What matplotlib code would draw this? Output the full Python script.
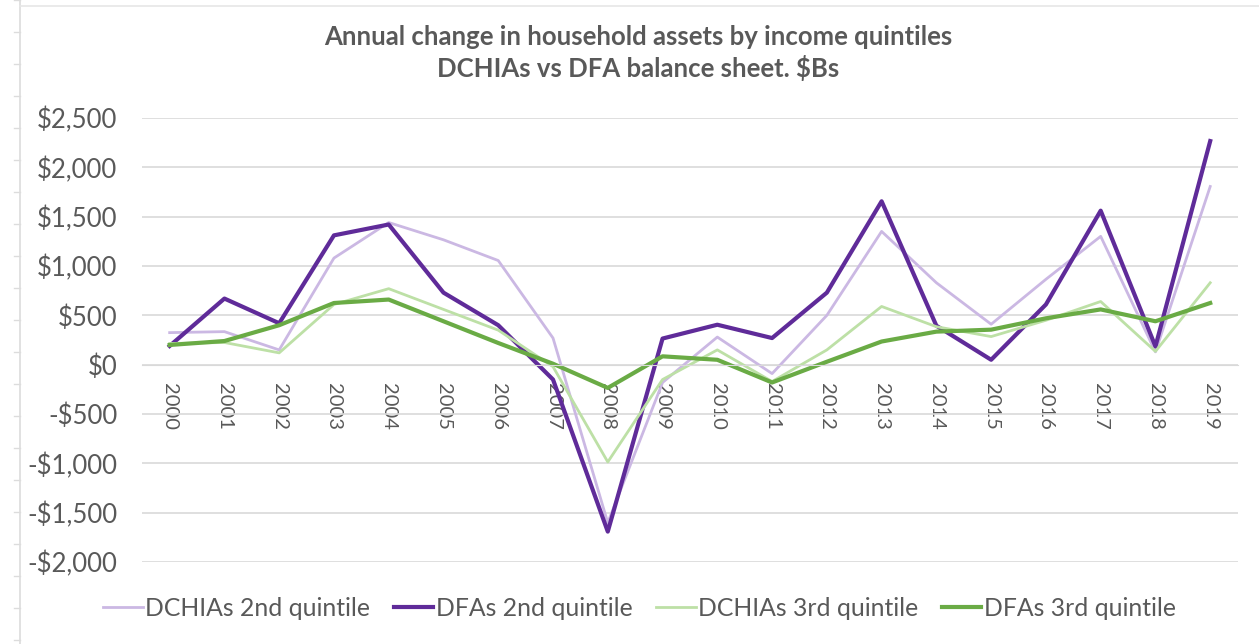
import matplotlib.pyplot as plt
from matplotlib.lines import Line2D
from matplotlib.ticker import FuncFormatter

years = [str(y) for y in range(2000, 2020)]

# annual change in assets, $Bs
dchia_q2 = [325, 335, 150, 1080, 1440, 1265, 1055, 270, -1600, -180,
            280, -90, 500, 1350, 830, 410, 865, 1300, 130, 1805]
dfa_q2 = [190, 670, 420, 1310, 1420, 730, 400, -150, -1690, 265,
          405, 270, 730, 1655, 395, 50, 610, 1560, 185, 2265]
dchia_q3 = [215, 225, 120, 610, 770, 560, 350, -20, -985, -150,
            150, -170, 150, 590, 385, 285, 450, 640, 135, 830]
dfa_q3 = [200, 240, 400, 625, 660, 440, 220, 10, -235, 85,
          50, -180, 30, 235, 335, 355, 470, 560, 440, 625]

series_names = ['DCHIAs 2nd quintile', 'DFAs 2nd quintile',
                'DCHIAs 3rd quintile', 'DFAs 3rd quintile']

text_color = '#595959'
grid_color = '#d9d9d9'

plt.rcParams['font.family'] = ['Lato', 'DejaVu Sans']

fig = plt.figure(figsize=(12.59, 6.44), dpi=100)
ax = fig.add_axes([0.113, 0.127, 0.870, 0.690])

x = list(range(len(years)))
ax.plot(x, dchia_q2, color='#cbb8e3', lw=2.0, label=series_names[0])
ax.plot(x, dfa_q2, color='#5f2b99', lw=3.0, label=series_names[1])
ax.plot(x, dchia_q3, color='#bde0a6', lw=2.0, label=series_names[2])
ax.plot(x, dfa_q3, color='#6aab45', lw=3.0, label=series_names[3])

ax.set_xlim(-0.5, len(years) - 0.5)
ax.set_ylim(-2000, 2500)
ax.set_yticks(range(-2000, 2501, 500))


def dollars(v, pos):
    if v < 0:
        return '-${:,.0f}'.format(-v)
    return '${:,.0f}'.format(v)


ax.yaxis.set_major_formatter(FuncFormatter(dollars))
ax.grid(axis='y', color=grid_color, lw=1.2)
ax.set_axisbelow(True)

# category axis sits on the zero line
ax.spines['bottom'].set_position(('data', 0))
ax.spines['bottom'].set_color(grid_color)
for side in ['top', 'right', 'left']:
    ax.spines[side].set_visible(False)
ax.set_xticks(x)
ax.set_xticklabels(years, rotation=-90)
ax.tick_params(axis='x', length=0, pad=13, labelsize=14.5, labelcolor=text_color)
ax.tick_params(axis='y', length=0, pad=18, labelsize=18.5, labelcolor=text_color)

fig.text(0.507, 0.918, 'Annual change in household assets by income quintiles\n'
         'DCHIAs vs DFA balance sheet. $Bs',
         ha='center', va='center', fontsize=18.5, fontweight='bold',
         color=text_color, linespacing=1.3)

fig.legend(loc='center', bbox_to_anchor=(0.508, 0.055), ncol=4, frameon=False,
           fontsize=17.8, handlelength=1.6, handletextpad=0.1, columnspacing=0.95,
           labelcolor=text_color)

# thin page edge on the left and top
fig.add_artist(Line2D([0.016, 0.016], [0, 1], color='#dcdcdc', lw=1.2))
fig.add_artist(Line2D([0.016, 1], [0.99, 0.99], color='#e6e6e6', lw=1.2))
for ty in range(0, 644, 32):
    yf = 1 - ty / 644
    fig.add_artist(Line2D([0.011, 0.016], [yf, yf], color='#dcdcdc', lw=1))

fig.savefig('out.png', dpi=100, facecolor='white')
